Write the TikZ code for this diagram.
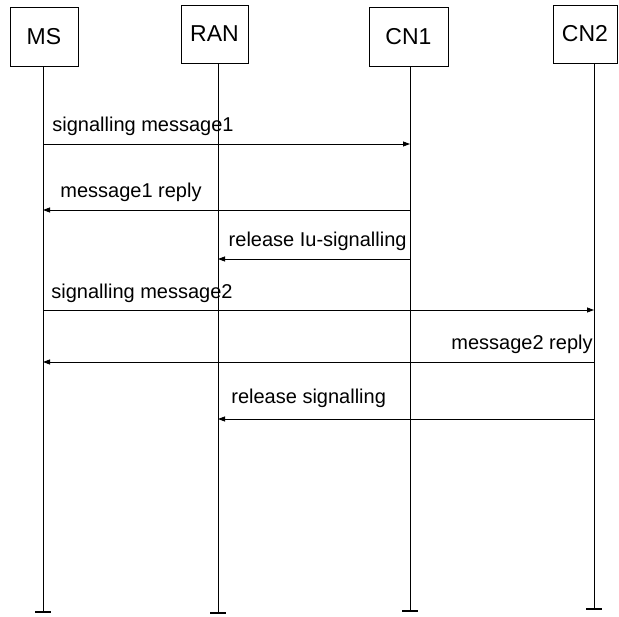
\documentclass[tikz,border=0pt]{standalone}
\usepackage{fontspec}
\setmainfont{Liberation Sans}
\usetikzlibrary{arrows.meta}

\begin{document}
\begin{tikzpicture}[x=1pt,y=-1pt,line width=0.8pt]
\tikzstyle{every node}+=[inner sep=0pt]
\tikzstyle{entity}=[draw,font=\fontsize{23}{27}\selectfont]
\tikzstyle{msg}=[-{Triangle[length=7pt,width=5pt]}]
\tikzstyle{lbl}=[font=\fontsize{20}{24}\selectfont]
\useasboundingbox (0,0) rectangle (619,617);
% entities
\node [entity,minimum width=68pt,minimum height=59pt] (ms) at (44,36.5) {MS};
\node [entity,minimum width=67pt,minimum height=58pt] (ran) at (214.5,34) {RAN};
\node [entity,minimum width=79pt,minimum height=59pt] (cn1) at (408.5,36.5) {CN1};
\node [entity,minimum width=64pt,minimum height=58pt] (cn2) at (585,34) {CN2};
% lifelines
\coordinate (msE) at (43,612);
\coordinate (ranE) at (218,613);
\coordinate (cn1E) at (410,611);
\coordinate (cn2E) at (594,609);
\draw (ms.south -| msE) -- (msE);
\draw (ran.south -| ranE) -- (ranE);
\draw (cn1.south -| cn1E) -- (cn1E);
\draw (cn2.south -| cn2E) -- (cn2E);
\draw [line width=1.6pt] ([xshift=-8pt]msE) -- ([xshift=8pt]msE);
\draw [line width=1.6pt] ([xshift=-8pt]ranE) -- ([xshift=8pt]ranE);
\draw [line width=1.6pt] ([xshift=-8pt]cn1E) -- ([xshift=8pt]cn1E);
\draw [line width=1.6pt] ([xshift=-8pt]cn2E) -- ([xshift=8pt]cn2E);
% messages
\draw [msg] (msE |- 0,144) -- (cn1E |- 0,144);
\node [lbl,anchor=base west] (m1) at (52,132) {signalling message1};
\draw [msg] (cn1E |- 0,210) -- (msE |- 0,210);
\node [lbl,anchor=base west] (r1) at (60,198) {message1 reply};
\draw [msg] (cn1E |- 0,259) -- (ranE |- 0,259);
\node [lbl,anchor=base east] (rel1) at (407,247) {release Iu-signalling};
\draw [msg] (msE |- 0,310) -- (cn2E |- 0,310);
\node [lbl,anchor=base west] (m2) at (51,299) {signalling message2};
\draw [msg] (cn2E |- 0,362) -- (msE |- 0,362);
\node [lbl,anchor=base east] (r2) at (593,350) {message2 reply};
\draw [msg] (cn2E |- 0,419) -- (ranE |- 0,419);
\node [lbl,anchor=base west] (rel2) at (231,404) {release signalling};
\end{tikzpicture}
\end{document}
